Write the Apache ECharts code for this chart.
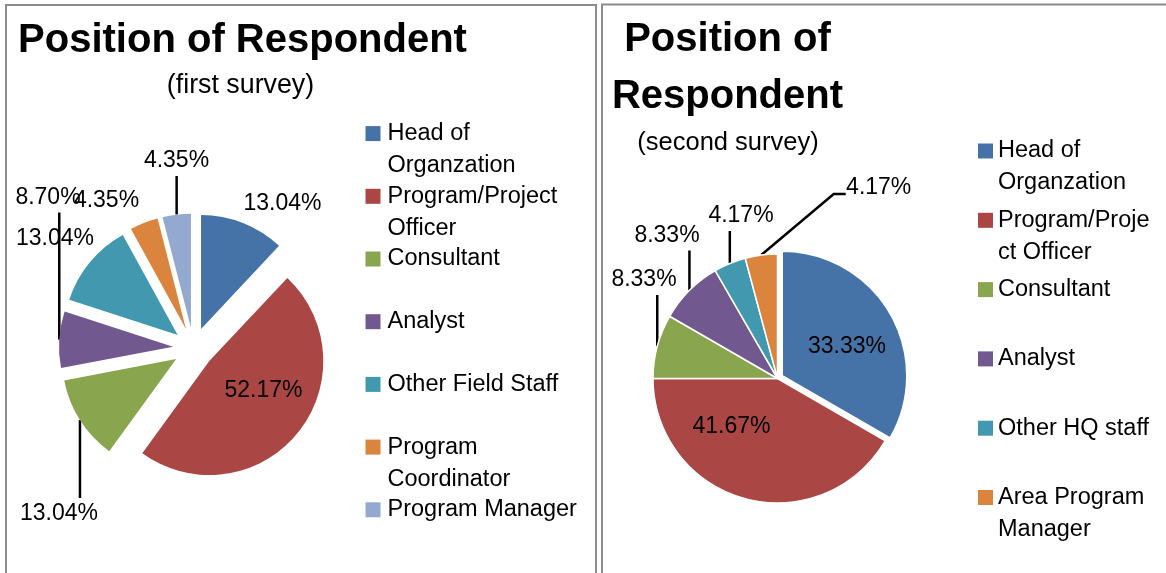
<!DOCTYPE html>
<html>
<head>
<meta charset="utf-8">
<style>
html,body{margin:0;padding:0;background:#ffffff;}
#chart{width:1166px;height:573px;}
</style>
<script src="https://cdn.jsdelivr.net/npm/echarts@6/dist/echarts.min.js"></script>
</head>
<body>
<div id="chart"></div>
<script>
// ---------------- data ----------------
const firstCategories = ['Head of Organzation', 'Program/Project Officer', 'Consultant', 'Analyst', 'Other Field Staff', 'Program Coordinator', 'Program Manager'];
const firstValues = [13.04, 52.17, 13.04, 8.70, 13.04, 4.35, 4.35];

const secondCategories = ['Head of Organzation', 'Program/Project Officer', 'Consultant', 'Analyst', 'Other HQ staff', 'Area Program Manager'];
const secondValues = [33.33, 41.67, 8.33, 8.33, 4.17, 4.17];

// legend texts as wrapped in the original
const firstLegendLines = [['Head of', 'Organzation'], ['Program/Project', 'Officer'], ['Consultant'], ['Analyst'], ['Other Field Staff'], ['Program', 'Coordinator'], ['Program Manager']];
const secondLegendLines = [['Head of', 'Organzation'], ['Program/Proje', 'ct Officer'], ['Consultant'], ['Analyst'], ['Other HQ staff'], ['Area Program', 'Manager']];

const firstTitleLines = ['Position of Respondent'];
const firstSubtitle = '(first survey)';
const secondTitleLines = ['Position of', 'Respondent'];
const secondSubtitle = '(second survey)';

// ---------------- styles / layout ----------------
const FONT = '"Liberation Sans", Arial, sans-serif';
const sliceColors = ['#4572A7', '#AA4643', '#89A54E', '#71588F', '#4198AF', '#DB843D', '#93A9CF'];

const pie1 = { cx: 193.5, cy: 348, r: 114, offset: 20.5 };
const pie2 = { cx: 777.5, cy: 378.5, r: 124.5, offset: 5.5 };
const firstExploded = [true, true, true, true, true, true, true];
const secondExploded = [true, false, false, false, false, false];

// label placement (label centre) and leader-line style
const firstLabelPos = [[282.5, 203.5], [263.5, 391], [59, 514], [48, 197.5], [55, 238.5], [106.5, 201], [176.5, 161]];
const firstLeaders = ['none', 'none', 'down', 'up', 'none', 'none', 'up'];
const secondLabelPos = [[847, 347], [731.5, 426.5], [644, 280], [667, 235.5], [741, 216], [878.7, 188]];
const secondLeaders = ['none', 'none', 'up', 'up', 'up', 'elbow'];

function legendFormatter(categories, lines) {
  return function (name) {
    const l = lines[categories.indexOf(name)] || [name];
    return [' ', l[0], l[1] || ' '].join('\n');
  };
}

function makeLabelLayout(pie, values, exploded, labelPos, leaders) {
  const total = values.reduce((a, b) => a + b, 0);
  const mids = [];
  let acc = 0;
  values.forEach(v => { mids.push((acc + v / 2) / total * 2 * Math.PI); acc += v; });
  return function (params) {
    const i = params.dataIndex;
    const lx = labelPos[i][0], ly = labelPos[i][1];
    const out = { x: lx, y: ly, align: 'center', verticalAlign: 'middle' };
    const kind = leaders[i];
    if (kind !== 'none') {
      const th = mids[i];
      const d = pie.r + (exploded[i] ? pie.offset : 0);
      const ax = pie.cx + d * Math.sin(th);
      const ay = pie.cy - d * Math.cos(th);
      if (kind === 'up') {
        const ey = ly + 15;
        out.labelLinePoints = [[ax, ay], [ax, (ay + ey) / 2], [ax, ey]];
      } else if (kind === 'down') {
        const ey = ly - 16;
        out.labelLinePoints = [[ax, ay], [ax, (ay + ey) / 2], [ax, ey]];
      } else {
        out.labelLinePoints = [[ax, ay], [lx - 45, ly + 6], [lx - 33, ly + 6]];
      }
    }
    return out;
  };
}

function sectorSeries(pie, cats, vals, exploded, border) {
  return {
    type: 'pie',
    center: [pie.cx, pie.cy],
    radius: pie.r,
    startAngle: 90,
    clockwise: true,
    selectedMode: 'multiple',
    selectedOffset: pie.offset,
    avoidLabelOverlap: false,
    silent: true,
    animation: false,
    label: { show: false },
    labelLine: { show: false },
    itemStyle: { borderColor: '#ffffff', borderWidth: border },
    select: { itemStyle: { borderColor: '#ffffff', borderWidth: border } },
    emphasis: { disabled: true },
    data: cats.map((n, i) => ({ name: n, value: vals[i], selected: exploded[i], itemStyle: { color: sliceColors[i] } }))
  };
}

function labelSeries(pie, cats, vals, exploded, labelPos, leaders) {
  return {
    type: 'pie',
    center: [pie.cx, pie.cy],
    radius: pie.r,
    startAngle: 90,
    clockwise: true,
    selectedMode: false,
    avoidLabelOverlap: false,
    silent: true,
    animation: false,
    itemStyle: { color: 'rgba(0,0,0,0)', borderWidth: 0 },
    emphasis: { disabled: true },
    label: {
      show: true,
      position: 'outside',
      color: '#000000',
      fontFamily: FONT,
      fontSize: 23,
      formatter: p => Number(p.value).toFixed(2) + '%'
    },
    labelLine: { show: true, smooth: false, lineStyle: { color: '#000000', width: 2.5 } },
    labelLayout: makeLabelLayout(pie, vals, exploded, labelPos, leaders),
    data: cats.map((n, i) => ({ name: n, value: vals[i], labelLine: { show: leaders[i] !== 'none' } }))
  };
}

const legendText = { color: '#000000', fontFamily: FONT, fontSize: 23.5, lineHeight: 32 };

const chart = echarts.init(document.getElementById('chart'), null, { renderer: 'canvas' });
chart.setOption({
  backgroundColor: '#ffffff',
  animation: false,
  tooltip: { show: false },
  legend: [
    {
      orient: 'vertical', left: 365.5, top: 85.6, height: 480, padding: 0,
      itemGap: -33.3, itemWidth: 15, itemHeight: 15, icon: 'rect',
      selectedMode: false,
      itemStyle: { borderWidth: 0 },
      data: firstCategories,
      formatter: legendFormatter(firstCategories, firstLegendLines),
      textStyle: Object.assign({ padding: [0, 0, 0, 2] }, legendText)
    },
    {
      orient: 'vertical', left: 978, top: 103, height: 460, padding: 0,
      itemGap: -26.7, itemWidth: 15, itemHeight: 15, icon: 'rect',
      selectedMode: false,
      itemStyle: { borderWidth: 0 },
      data: secondCategories,
      formatter: legendFormatter(secondCategories, secondLegendLines),
      textStyle: Object.assign({}, legendText)
    }
  ],
  graphic: [
    { type: 'rect', silent: true, shape: { x: 6, y: 5, width: 590, height: 620 }, style: { fill: 'none', stroke: '#8c8c8c', lineWidth: 2 } },
    { type: 'rect', silent: true, shape: { x: 602, y: 4.5, width: 620, height: 620 }, style: { fill: 'none', stroke: '#8c8c8c', lineWidth: 2 } },
    { type: 'text', silent: true, x: 242.5, y: 40.5, style: { text: firstTitleLines[0], font: 'bold 40px ' + FONT, fill: '#000', align: 'center', verticalAlign: 'middle' } },
    { type: 'text', silent: true, x: 240.5, y: 86, style: { text: firstSubtitle, font: '26.8px ' + FONT, fill: '#000', align: 'center', verticalAlign: 'middle' } },
    { type: 'text', silent: true, x: 727.5, y: 40, style: { text: secondTitleLines[0], font: 'bold 40px ' + FONT, fill: '#000', align: 'center', verticalAlign: 'middle' } },
    { type: 'text', silent: true, x: 727.5, y: 96.7, style: { text: secondTitleLines[1], font: 'bold 40px ' + FONT, fill: '#000', align: 'center', verticalAlign: 'middle' } },
    { type: 'text', silent: true, x: 728, y: 143, style: { text: secondSubtitle, font: '25.5px ' + FONT, fill: '#000', align: 'center', verticalAlign: 'middle' } }
  ],
  series: [
    sectorSeries(pie1, firstCategories, firstValues, firstExploded, 0),
    sectorSeries(pie2, secondCategories, secondValues, secondExploded, 1.5),
    labelSeries(pie1, firstCategories, firstValues, firstExploded, firstLabelPos, firstLeaders),
    labelSeries(pie2, secondCategories, secondValues, secondExploded, secondLabelPos, secondLeaders)
  ]
});
</script>
</body>
</html>
